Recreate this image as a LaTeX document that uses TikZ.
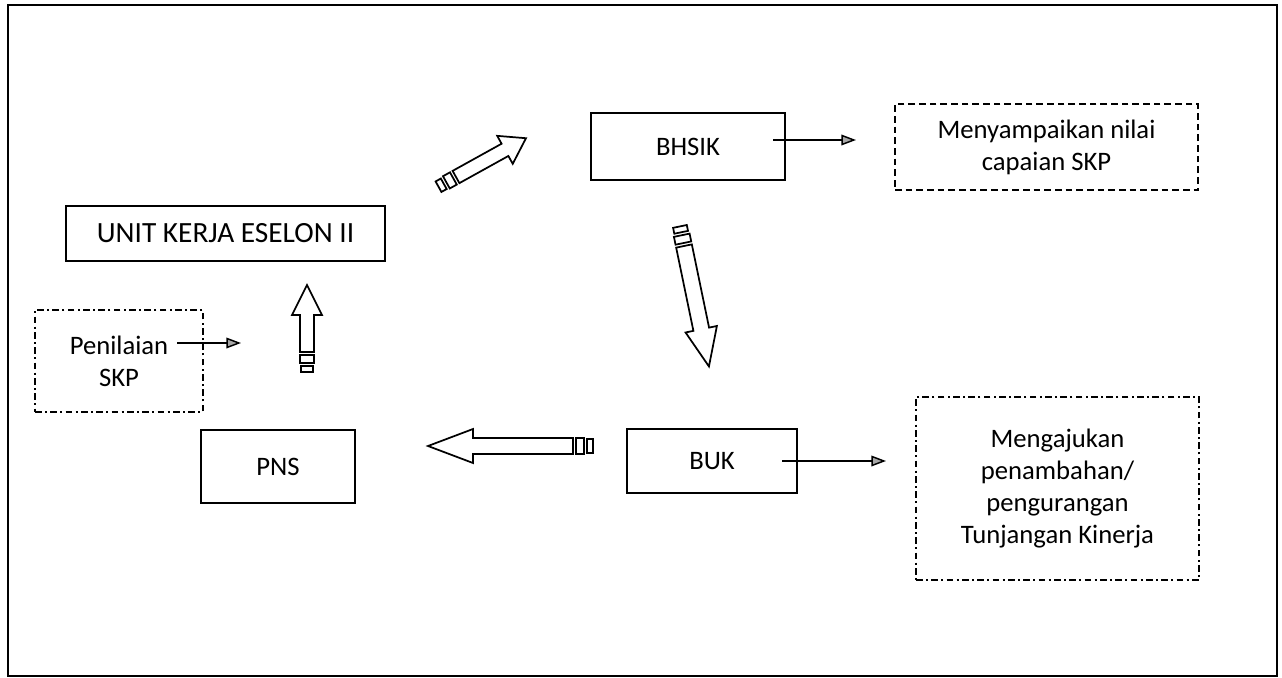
\documentclass[tikz,border=0pt]{standalone}
\usepackage{fontspec}
\setmainfont{Carlito}
\usetikzlibrary{arrows.meta,calc}
\tikzset{
  txt/.style={font=\fontsize{20}{24}\selectfont, align=center, inner sep=0pt},
  solidbox/.style={txt, draw=black, line width=1.3pt},
  dashbox/.style={txt, draw=black, line width=1.2pt, dash pattern=on 5pt off 3pt},
  dashdotbox/.style={txt, draw=black, line width=1.2pt, dash pattern=on 5pt off 2.5pt on 1.5pt off 2.5pt},
  thinarrow/.style={draw=black, line width=1.1pt, -{Triangle[length=11pt,width=8pt,fill=gray!70]}},
  barrowline/.style={draw=black, line width=1.3pt, fill=white, line join=miter},
  pics/barrow/.style n args={4}{code={
    \draw[barrowline] (0,-#2) -- ({#1-#3},-#2) -- ({#1-#3},-#4) -- (#1,0) -- ({#1-#3},#4) -- ({#1-#3},#2) -- (0,#2) -- cycle;
    \draw[barrowline] (-3,-#2) rectangle (-11,#2);
    \draw[barrowline] (-14,{-#2+1}) rectangle (-20,{#2-1});
  }},
}
\begin{document}
\begin{tikzpicture}[x=0.75pt, y=-0.75pt]
\useasboundingbox (0,0) rectangle (1282,678);
\draw[line width=1.8pt] (8,5) rectangle (1277,676);

% nodes
\node[solidbox, font=\fontsize{22}{26}\selectfont, minimum width=239.25pt, minimum height=41.25pt] (unit) at (225.5,233.5) {UNIT KERJA ESELON II};
\node[dashdotbox, minimum width=126pt, minimum height=76.5pt] (pen) at (119,361) {Penilaian\\SKP};
\node[solidbox, minimum width=115.5pt, minimum height=54.75pt] (pns) at (278,466.5) {PNS};
\node[solidbox, minimum width=145.5pt, minimum height=50.25pt] (bhsik) at (688,146.5) {BHSIK};
\node[dashbox, minimum width=227.25pt, minimum height=64.5pt] (meny) at (1046.5,147) {Menyampaikan nilai\\capaian SKP};
\node[solidbox, minimum width=127.5pt, minimum height=48pt] (buk) at (712,461) {BUK};
\node[dashdotbox, minimum width=212.25pt, minimum height=137.25pt] (meng) at (1057.5,488.5) {Mengajukan\\penambahan/\\pengurangan\\Tunjangan Kinerja};

% thin arrows
\coordinate (penS) at (177,343);
\coordinate (penE) at (241,343);
\draw[thinarrow] (penS) -- (penE);
\coordinate (bhS) at (773,140);
\coordinate (bhE) at (856,140);
\draw[thinarrow] (bhS) -- (bhE);
\coordinate (bukS) at (782,461);
\coordinate (bukE) at (886,461);
\draw[thinarrow] (bukS) -- (bukE);

% block arrows
\pic[rotate=29] at (456,177) {barrow={80}{7}{24}{16}};
\pic[rotate=-78.3] at (684,246) {barrow={123}{8}{38}{16}};
\pic[rotate=180] at (573,446) {barrow={145}{8}{45}{17}};
\pic[rotate=90] at (307,352) {barrow={67}{7}{30}{15}};
\end{tikzpicture}
\end{document}
